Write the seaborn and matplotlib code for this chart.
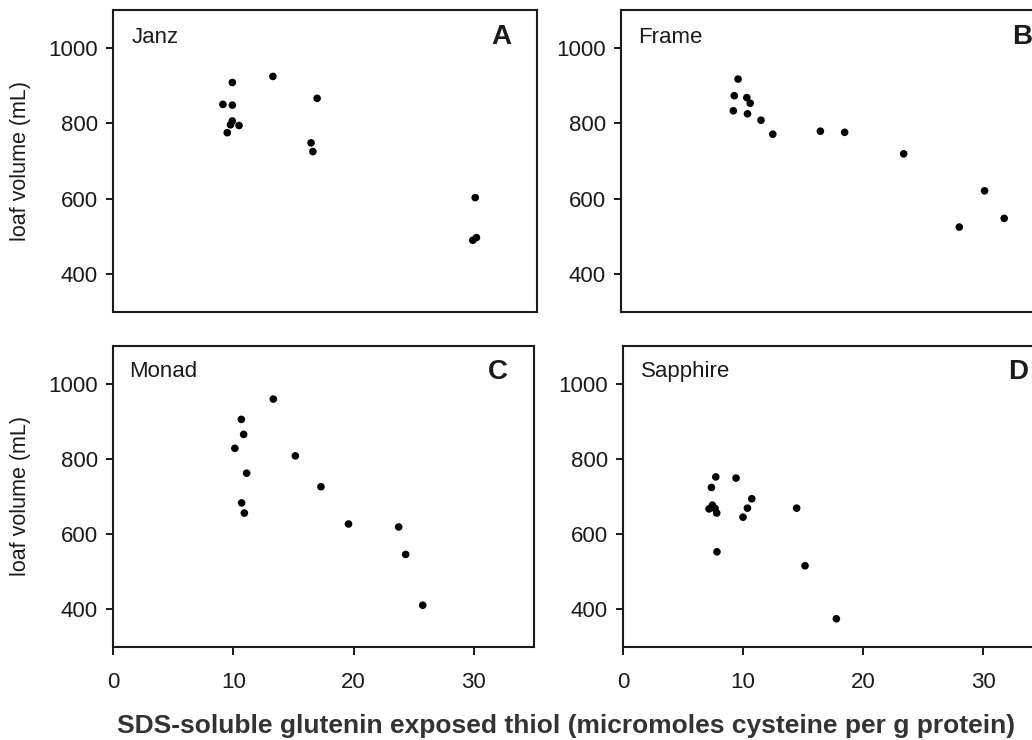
import matplotlib
matplotlib.use("Agg")
import matplotlib.pyplot as plt
import pandas as pd
import seaborn as sns

# values (thiol x, loaf volume y)
janz_thiol = [9.85, 13.2, 9.07, 9.85, 16.85, 9.85, 9.7, 10.4, 9.43, 16.35, 16.5, 29.9, 30.0, 29.7]
janz_volume = [908, 924, 850, 848, 866, 806, 796, 794, 775, 748, 725, 603, 497, 490]

frame_thiol = [9.64, 9.33, 10.36, 10.64, 9.25, 10.42, 11.53, 12.5, 16.42, 18.42, 23.28, 29.94, 27.86, 31.56]
frame_volume = [917, 873, 868, 853, 833, 825, 808, 771, 779, 776, 719, 621, 525, 548]

monad_thiol = [13.33, 10.67, 10.86, 10.13, 15.16, 11.11, 17.29, 10.69, 10.92, 19.58, 23.75, 24.33, 25.75]
monad_volume = [959, 905, 865, 828, 808, 762, 726, 683, 656, 627, 619, 546, 411]

sapphire_thiol = [7.73, 9.42, 7.37, 10.73, 7.45, 7.17, 7.67, 7.81, 10.37, 10.0, 14.47, 7.83, 15.17, 17.78]
sapphire_volume = [752, 749, 724, 694, 677, 667, 668, 656, 669, 645, 669, 553, 516, 375]

cultivars = ["Janz", "Frame", "Monad", "Sapphire"]
letters = ["A", "B", "C", "D"]
x_ticks = [0, 10, 20, 30]
y_ticks = [400, 600, 800, 1000]

W, H = 1032, 740
INK = "#1a1a1a"

sns.set_style("ticks")
plt.rcParams["font.family"] = ["Liberation Sans", "DejaVu Sans"]


def add_axes_px(fig, left, top, right, bottom):
    return fig.add_axes([left / W, 1 - bottom / H, (right - left) / W, (bottom - top) / H])


def draw_panel(ax, x, y, name, letter, bottom_row, left_col, name_x, letter_x, text_y):
    df = pd.DataFrame({"thiol": x, "volume": y})
    sns.scatterplot(data=df, x="thiol", y="volume", ax=ax, color="black",
                    s=30, edgecolor="none", linewidth=0)
    ax.set_xlim(0, 35)
    ax.set_ylim(300, 1100)
    ax.set_yticks(y_ticks)
    for sp in ax.spines.values():
        sp.set_visible(True)
        sp.set_linewidth(1.5)
        sp.set_color(INK)
    ax.tick_params(axis="y", direction="out", length=5, width=1.4, labelsize=16,
                   colors=INK, pad=6)
    if bottom_row:
        ax.set_xticks(x_ticks)
        ax.tick_params(axis="x", direction="out", length=6, width=1.4, labelsize=16,
                       colors=INK, pad=12)
    else:
        ax.set_xticks([])
    ax.set_xlabel("")
    if left_col:
        ax.set_ylabel("loaf volume (mL)", fontsize=15.5, color=INK, labelpad=12)
    else:
        ax.set_ylabel("")
    ax.text(name_x, text_y, name, transform=ax.transAxes, fontsize=16,
            color=INK, ha="left", va="center")
    ax.text(letter_x, text_y, letter, transform=ax.transAxes, fontsize=20,
            fontweight="bold", color=INK, ha="center", va="center")


fig = plt.figure(figsize=(W / 100, H / 100), dpi=100)
fig.patch.set_facecolor("white")

ax_a = add_axes_px(fig, 113, 10, 537, 312)
ax_b = add_axes_px(fig, 621, 10, 1046, 312)
ax_c = add_axes_px(fig, 113, 346, 534, 647)
ax_d = add_axes_px(fig, 623, 346, 1043, 647)

draw_panel(ax_a, janz_thiol, janz_volume, cultivars[0], letters[0], False, True, 0.043, 0.915, 0.91)
draw_panel(ax_b, frame_thiol, frame_volume, cultivars[1], letters[1], False, False, 0.04, 0.943, 0.91)
draw_panel(ax_c, monad_thiol, monad_volume, cultivars[2], letters[2], True, True, 0.038, 0.914, 0.915)
draw_panel(ax_d, sapphire_thiol, sapphire_volume, cultivars[3], letters[3], True, False, 0.042, 0.94, 0.915)

fig.text(566 / W, 1 - 726 / H,
         "SDS-soluble glutenin exposed thiol (micromoles cysteine per g protein)",
         fontsize=19, fontweight="bold", color="#333333", ha="center", va="center")

fig.savefig("out.png", dpi=100)
plt.close(fig)
